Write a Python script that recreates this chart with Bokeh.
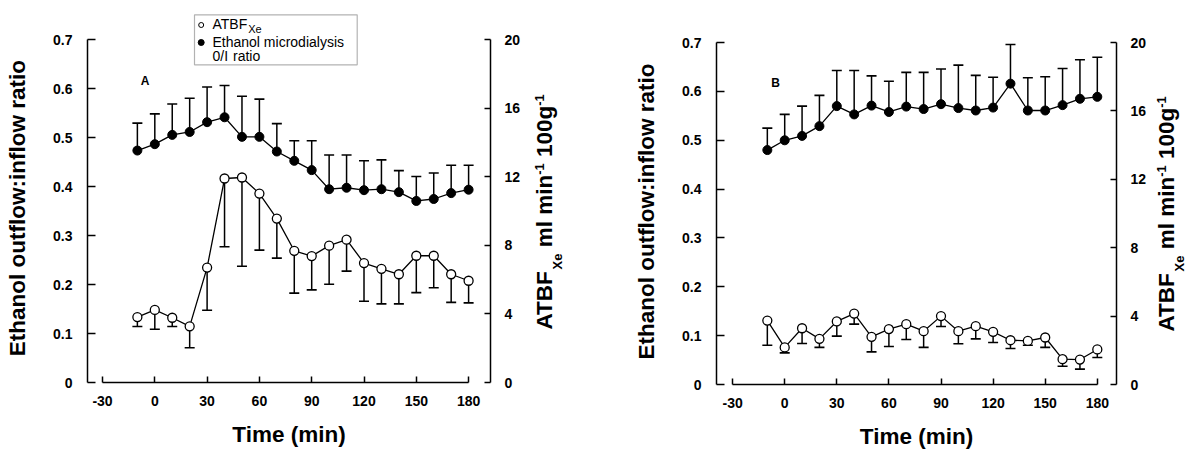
import math
from bokeh.plotting import figure
from bokeh.models import Range1d, LinearAxis, FixedTicker, Label, BoxAnnotation
from bokeh.layouts import row
from bokeh.embed import file_html
from bokeh.resources import INLINE

# ---------------- data ----------------
times = [-10, 0, 10, 20, 30, 40, 50, 60, 70, 80, 90, 100, 110, 120, 130, 140, 150, 160, 170, 180]
x_ticks = [-30, 0, 30, 60, 90, 120, 150, 180]
left_ticks = [0, 0.1, 0.2, 0.3, 0.4, 0.5, 0.6, 0.7]
right_ticks = [0, 4, 8, 12, 16, 20]

# Panel A
a_eth = [0.474, 0.487, 0.506, 0.512, 0.532, 0.542, 0.502, 0.502, 0.472, 0.453,
         0.434, 0.395, 0.398, 0.393, 0.395, 0.389, 0.371, 0.375, 0.387, 0.394]
a_eth_hi = [0.530, 0.549, 0.569, 0.581, 0.604, 0.607, 0.585, 0.579, 0.529, 0.494,
            0.494, 0.465, 0.465, 0.453, 0.455, 0.433, 0.421, 0.428, 0.444, 0.444]
a_atbf = [3.82, 4.24, 3.78, 3.28, 6.71, 11.91, 11.97, 11.03, 9.57, 7.69,
          7.38, 7.99, 8.34, 6.97, 6.64, 6.32, 7.40, 7.40, 6.32, 5.94]
a_atbf_lo = [3.27, 3.11, 3.27, 2.03, 4.22, 7.93, 6.79, 7.73, 7.26, 5.22,
             5.41, 5.74, 6.50, 4.74, 4.59, 4.59, 5.25, 5.53, 4.68, 4.65]

# Panel B
b_eth = [0.480, 0.500, 0.509, 0.529, 0.570, 0.553, 0.571, 0.558, 0.569, 0.564,
         0.574, 0.566, 0.561, 0.567, 0.616, 0.561, 0.561, 0.572, 0.585, 0.589]
b_eth_hi = [0.525, 0.553, 0.570, 0.592, 0.643, 0.643, 0.632, 0.621, 0.639, 0.639,
            0.646, 0.654, 0.633, 0.629, 0.696, 0.628, 0.630, 0.647, 0.665, 0.670]
b_atbf = [3.74, 2.17, 3.29, 2.67, 3.69, 4.15, 2.79, 3.24, 3.53, 3.12,
          4.00, 3.12, 3.41, 3.08, 2.59, 2.55, 2.75, 1.48, 1.46, 2.05]
b_atbf_lo = [2.30, 1.85, 2.40, 2.17, 2.83, 3.53, 1.91, 2.22, 2.63, 2.17,
             3.39, 2.38, 2.67, 2.46, 2.11, 2.30, 2.17, 1.07, 0.90, 1.58]

left_title = "Ethanol outflow:inflow ratio"
x_title = "Time (min)"
legend_texts = ["ATBF", "Xe", "Ethanol microdialysis", "0/I", "ratio"]

FONT = "Liberation Sans"
PAGE_H = 452
MID = 0.35  # baseline lies this many em below the 'middle' anchor
ROT_DY = 10  # rotated labels land this many px low; compensate
BOLD_W = {' ': 278, 'A': 722, 'T': 611, 'B': 722, 'F': 611, 'X': 667, 'e': 556, 'm': 889,
          'l': 278, 'i': 278, 'n': 611, '-': 333, '1': 556, '0': 556, 'g': 611}
REG_W = {'A': 667, 'T': 611, 'B': 667, 'F': 611, 'X': 667, 'e': 556}


def tw(s, size, table):
    return sum(table.get(c, 556) for c in s) * size / 1000.0


def make_panel(fw, fh, x0, x1, y1, mb_l, mb_r, mb_t, mb_b,
               eth, eth_hi, atbf, atbf_lo, letter, letter_px):
    p = figure(frame_width=fw, frame_height=fh,
               x_range=Range1d(x0, x1), y_range=Range1d(0, y1),
               output_backend="svg", toolbar_location=None, title=None,
               min_border_left=mb_l, min_border_right=mb_r,
               min_border_top=mb_t, min_border_bottom=mb_b,
               background_fill_color="white", border_fill_color="white")
    p.outline_line_color = None
    p.grid.visible = False
    p.extra_y_ranges = {"atbf": Range1d(0, y1 * 20 / 0.7)}

    sx = fw / (x1 - x0)
    sy = fh / y1

    def dx(px_from_left):
        return x0 + px_from_left / sx

    def dy(px_from_bottom):
        return px_from_bottom / sy

    def style_axis(ax, tick_in):
        ax.axis_line_width = 1.5
        ax.axis_line_color = "black"
        ax.major_tick_line_width = 1.5
        ax.major_tick_line_color = "black"
        ax.major_tick_in = tick_in
        ax.major_tick_out = 0
        ax.minor_tick_line_color = None
        ax.major_label_text_font = FONT
        ax.major_label_text_font_style = "bold"
        ax.major_label_text_font_size = "14px"
        ax.major_label_text_color = "black"

    xa = p.xaxis[0]
    xa.ticker = FixedTicker(ticks=x_ticks)
    xa.bounds = (-30, 180)
    xa.major_label_overrides = {-30: "-30"}
    style_axis(xa, 6)
    xa.major_label_standoff = 13
    xa.axis_label = x_title
    xa.axis_label_text_font = FONT
    xa.axis_label_text_font_style = "bold"
    xa.axis_label_text_font_size = "22.5px"
    xa.axis_label_text_color = "black"
    xa.axis_label_standoff = 13

    ya = p.yaxis[0]
    ya.ticker = FixedTicker(ticks=left_ticks)
    ya.bounds = (0, 0.7)
    ya.major_label_overrides = {0: "0"}
    style_axis(ya, 8)
    ya.major_label_standoff = 15

    ra = LinearAxis(y_range_name="atbf", ticker=FixedTicker(ticks=right_ticks), bounds=(0, 20))
    style_axis(ra, 6)
    ra.major_label_standoff = 14
    p.add_layout(ra, "right")

    # ethanol series (filled) with upper error bars
    p.segment(x0=times, y0=eth, x1=times, y1=eth_hi, line_color="black", line_width=1.5)
    p.scatter(times, eth_hi, marker="dash", size=10, line_color="black", line_width=1.6)
    # ATBF series (open) with lower error bars
    p.segment(x0=times, y0=atbf, x1=times, y1=atbf_lo, line_color="black", line_width=1.5,
              y_range_name="atbf")
    p.scatter(times, atbf_lo, marker="dash", size=10, line_color="black", line_width=1.6,
              y_range_name="atbf")
    p.line(times, eth, line_color="black", line_width=1.3)
    p.line(times, atbf, line_color="black", line_width=1.3, y_range_name="atbf")
    p.scatter(times, eth, marker="circle", size=9, fill_color="black", line_color="black",
              line_width=1)
    p.scatter(times, atbf, marker="circle", size=9, fill_color="white", line_color="black",
              line_width=1.3, y_range_name="atbf")

    p.add_layout(Label(x=dx(letter_px[0]), y=dy(letter_px[1] + MID * 12), text=letter,
                       text_font=FONT, text_font_style="bold", text_font_size="12px",
                       text_align="center", text_baseline="middle", text_color="black"))
    return p, dx, dy


def make_strip(width):
    s = figure(frame_width=width, frame_height=PAGE_H, x_range=Range1d(0, width),
               y_range=Range1d(0, PAGE_H), x_axis_type=None, y_axis_type=None,
               output_backend="svg", toolbar_location=None, title=None,
               min_border=0, min_border_left=0, min_border_right=0,
               min_border_top=0, min_border_bottom=0,
               background_fill_color="white", border_fill_color="white")
    s.outline_line_color = None
    return s


def add_left_title(s, x_baseline, y_center_page):
    size = 22.5
    s.add_layout(Label(x=x_baseline - MID * size, y=PAGE_H - y_center_page + ROT_DY,
                       angle=math.pi / 2, text=left_title, text_font=FONT,
                       text_font_style="bold", text_font_size="%gpx" % size,
                       text_align="center", text_baseline="middle", text_color="black"))


def add_right_title(s, x_baseline, y_start_page):
    main, small = 22.5, 13
    pieces = [("ATBF", main, 0), ("Xe", small, -9.5), (None, main, 0),
              ("ml min", main, 0), ("-1", small, 8), (None, main, 0),
              ("100g", main, 0), ("-1", small, 8)]
    adv = PAGE_H - y_start_page + ROT_DY - 1
    for txt, size, shift in pieces:
        if txt is None:
            adv += tw(" ", size, BOLD_W)
            continue
        s.add_layout(Label(x=x_baseline - shift - MID * size, y=adv, angle=math.pi / 2,
                           text=txt, text_font=FONT, text_font_style="bold",
                           text_font_size="%gpx" % size, text_align="left",
                           text_baseline="middle", text_color="black"))
        adv += tw(txt, size, BOLD_W)


# page layout (x): stripL 0-45 | A 45-525 | mid 525-675 | B 675-1151 | stripR 1151-1186
stripL = make_strip(45)
add_left_title(stripL, 25, 205.7)

# Panel A: frame page x 87..490, y 12..382
pA, dxA, dyA = make_panel(403, 370, -38.61, 192.56, 370 / 489.35, 42, 35, 12, 70,
                          a_eth, a_eth_hi, a_atbf, a_atbf_lo, "A", (144.7 - 87, 382 - 85))

# legend inside panel A (page px -> frame px)
FL, FB = 87, 382
pA.add_layout(BoxAnnotation(left=dxA(194 - FL), right=dxA(356.7 - FL),
                            top=dyA(FB - 14.3), bottom=dyA(FB - 64.3),
                            fill_color=None, line_color="black", line_width=1.2))
pA.scatter([dxA(200.7 - FL)], [dyA(FB - 24.5)], marker="circle", size=5,
           fill_color="white", line_color="black", line_width=1)
pA.scatter([dxA(200.7 - FL)], [dyA(FB - 42)], marker="circle", size=6,
           fill_color="black", line_color="black", line_width=1)


def legend_label(txt, px, py_baseline, size):
    pA.add_layout(Label(x=dxA(px - FL), y=dyA(FB - py_baseline + MID * size), text=txt,
                        text_font=FONT, text_font_size="%gpx" % size,
                        text_baseline="middle", text_align="left", text_color="black"))


legend_label(legend_texts[0], 212, 28.5, 14)
legend_label(legend_texts[1], 212 + tw("ATBF", 14, REG_W), 32, 11)
legend_label(legend_texts[2], 212, 46, 14)
legend_label(legend_texts[3], 212, 60.5, 14)
legend_label(legend_texts[4], 232.5, 60.5, 14)

mid = make_strip(150)
add_right_title(mid, 552 - 525, 326)
add_left_title(mid, 654 - 525, 209)

# Panel B: frame page x 716..1116, y 12..384
pB, dxB, dyB = make_panel(400, 372, -39.27, 191.05, 372 / 488.4, 41, 35, 12, 68,
                          b_eth, b_eth_hi, b_atbf, b_atbf_lo, "B", (775 - 716, 384 - 86.7))

stripR = make_strip(35)
add_right_title(stripR, 1174 - 1151, 328)

layout = row(stripL, pA, mid, pB, stripR)
open("out.html", "w").write(file_html(layout, INLINE))
